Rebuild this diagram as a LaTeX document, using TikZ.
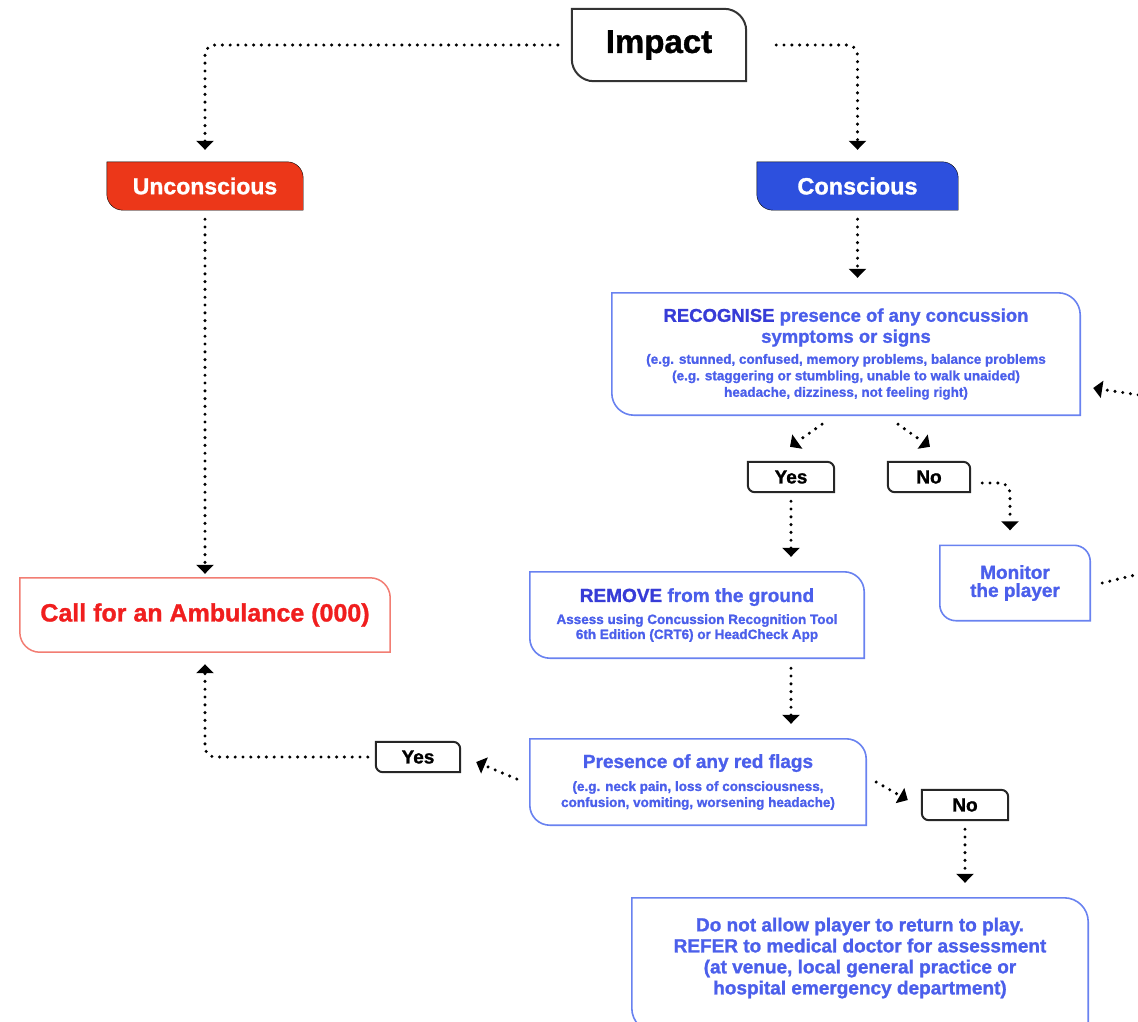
\documentclass[tikz,border=0pt]{standalone}
\usepackage{fontspec}
\setmainfont{Liberation Sans}[BoldFeatures={FakeBold=1.2}]
\usetikzlibrary{arrows.meta,backgrounds}
\definecolor{darkblue}{RGB}{55,60,215}
\definecolor{textblue}{RGB}{75,95,235}
\definecolor{borderblue}{RGB}{105,130,240}
\definecolor{uncred}{RGB}{236,55,25}
\definecolor{conblue}{RGB}{45,80,222}
\definecolor{callred}{RGB}{240,30,30}
\definecolor{callborder}{RGB}{242,125,115}
\newcommand\roundbox[4]{%
  \draw[#3] (#1.north west) -- ([xshift=-#2]#1.north east)
    arc[start angle=90,end angle=0,radius=#2]
    -- ([yshift=-#4]#1.south east) -- ([xshift=#2,yshift=-#4]#1.south west)
    arc[start angle=270,end angle=180,radius=#2] -- cycle;}
\tikzset{
  txt/.style={align=center,inner sep=0pt,font=\bfseries},
  dots/.style={line width=3.4pt,dash pattern=on 0pt off 7.8pt,line cap=round,
    rounded corners=10pt,-{Triangle[width=17pt,length=9pt]}},
  bluebox/.style={draw=borderblue,line width=1.6pt,fill=white},
  tagbox/.style={draw=black!85,line width=2pt,fill=white},
}
\begin{document}
\begin{tikzpicture}[x=1pt,y=-1pt]
\useasboundingbox (0,0) rectangle (1138,1021);
% nodes
\node[txt,minimum width=174pt,minimum height=72pt,font=\bfseries\fontsize{33}{38}\selectfont] (imp) at (659,45) {Impact};
\node[txt,minimum width=196pt,minimum height=48pt,text=white,font=\bfseries\fontsize{23}{26}\selectfont] (unc) at (205,186) {Unconscious};
\node[txt,minimum width=201pt,minimum height=48pt,text=white,font=\bfseries\fontsize{23.5}{26}\selectfont] (con) at (857.5,186) {Conscious};
\node[txt,minimum width=370pt,minimum height=74pt,text=callred,font=\bfseries\fontsize{25}{28}\selectfont] (call) at (205,615) {Call for an Ambulance (000)};
\node[txt,minimum width=468pt,minimum height=122pt,text=textblue,font=\bfseries\fontsize{18.5}{21}\selectfont] (rec) at (846,354)
  {\textcolor{darkblue}{RECOGNISE} presence of any concussion\\
   symptoms or signs\\
   \fontsize{13.5}{16.5}\selectfont (e.g. stunned, confused, memory problems, balance problems\\[-4.5pt]
   \fontsize{13.5}{16.5}\selectfont (e.g. staggering or stumbling, unable to walk unaided)\\[-4.5pt]
   \fontsize{13.5}{16.5}\selectfont headache, dizziness, not feeling right)};
\node[txt,minimum width=86pt,minimum height=30pt,font=\bfseries\fontsize{19}{22}\selectfont] (yes1) at (791,477) {Yes};
\node[txt,minimum width=82pt,minimum height=30pt,font=\bfseries\fontsize{19}{22}\selectfont] (no1) at (929,477) {No};
\node[txt,minimum width=150pt,minimum height=75pt,text=textblue,font=\bfseries\fontsize{19}{18}\selectfont] (mon) at (1015,583) {Monitor\\the player};
\node[txt,minimum width=334pt,minimum height=86pt,text=textblue,font=\bfseries\fontsize{19}{22}\selectfont] (rem) at (697,615)
  {\textcolor{darkblue}{REMOVE} from the ground\\
   \fontsize{13.5}{16}\selectfont Assess using Concussion Recognition Tool\\[-7pt]
   \fontsize{13.5}{16}\selectfont 6th Edition (CRT6) or HeadCheck App};
\node[txt,minimum width=336pt,minimum height=86pt,text=textblue,font=\bfseries\fontsize{19}{23}\selectfont] (red) at (698,782)
  {Presence of any red flags\\
   \fontsize{13.5}{16}\selectfont (e.g. neck pain, loss of consciousness,\\[-7pt]
   \fontsize{13.5}{16}\selectfont confusion, vomiting, worsening headache)};
\node[txt,minimum width=84pt,minimum height=30pt,font=\bfseries\fontsize{19}{22}\selectfont] (yes2) at (418,757) {Yes};
\node[txt,minimum width=86pt,minimum height=30pt,font=\bfseries\fontsize{19}{22}\selectfont] (no2) at (965,805) {No};
\node[txt,minimum width=456pt,minimum height=120pt,text=textblue,font=\bfseries\fontsize{19}{21}\selectfont] (ref) at (860,958)
  {Do not allow player to return to play.\\
   REFER to medical doctor for assessment\\
   (at venue, local general practice or\\
   hospital emergency department)};
% shapes
\begin{pgfonlayer}{background}
\roundbox{imp}{22pt}{draw=black!80,line width=2pt,fill=white}{0pt}
\roundbox{unc}{16pt}{fill=uncred}{0pt}
\roundbox{con}{16pt}{fill=conblue}{0pt}
\roundbox{call}{20pt}{draw=callborder,line width=1.5pt,fill=white}{0pt}
\roundbox{rec}{22pt}{bluebox}{0pt}
\roundbox{yes1}{7pt}{tagbox}{0pt}
\roundbox{no1}{7pt}{tagbox}{0pt}
\roundbox{mon}{16pt}{bluebox}{0pt}
\roundbox{rem}{20pt}{bluebox}{0pt}
\roundbox{red}{20pt}{bluebox}{0pt}
\roundbox{yes2}{7pt}{tagbox}{0pt}
\roundbox{no2}{7pt}{tagbox}{0pt}
\roundbox{ref}{24pt}{bluebox}{14pt}
\end{pgfonlayer}
% connectors
\coordinate (loopA) at (1172,566);
\coordinate (loopB) at (1172,400);
\coordinate (refin) at (no2.south |- ref.north);
\coordinate (recin) at (con.south |- rec.north);
\coordinate (remin) at (yes1.south |- rem.north);
\coordinate (remout) at (yes1.south |- rem.south);
\coordinate (redin) at (yes1.south |- red.north);
\draw[dots] ([xshift=-14pt]imp.west) -| ([yshift=12pt]unc.north);
\draw[dots] ([xshift=30pt]imp.east) -| ([yshift=12pt]con.north);
\draw[dots] ([yshift=-9pt]unc.south) -- ([yshift=4pt]call.north);
\draw[dots] ([yshift=-9pt]con.south) -- ([yshift=15pt]recin);
\draw[dots] ([xshift=-24pt,yshift=-9pt]rec.south) -- ([xshift=-1pt,yshift=15pt]yes1.north);
\draw[dots] ([xshift=52pt,yshift=-9pt]rec.south) -- ([xshift=1pt,yshift=15pt]no1.north);
\draw[dots] ([xshift=12pt,yshift=-6pt]no1.east) -| ([xshift=-5pt,yshift=15pt]mon.north);
\draw[dots] ([yshift=-9pt]yes1.south) -- ([yshift=15pt]remin);
\draw[dots] ([xshift=12pt]mon.east) -- (loopA) -- (loopB) -- ([xshift=13pt,yshift=-34pt]rec.east);
\draw[dots] ([yshift=-10pt]remout) -- ([yshift=15pt]redin);
\draw[dots] ([xshift=-13pt,yshift=3pt]red.west) -- ([xshift=16pt,yshift=-5pt]yes2.east);
\draw[dots] ([xshift=-8pt]yes2.west) -| ([yshift=-12pt]call.south);
\draw[dots] ([xshift=10pt]red.east) -- ([xshift=-14pt,yshift=5pt]no2.west);
\draw[dots] ([yshift=-9pt]no2.south) -- ([yshift=15pt]refin);
\end{tikzpicture}
\end{document}
